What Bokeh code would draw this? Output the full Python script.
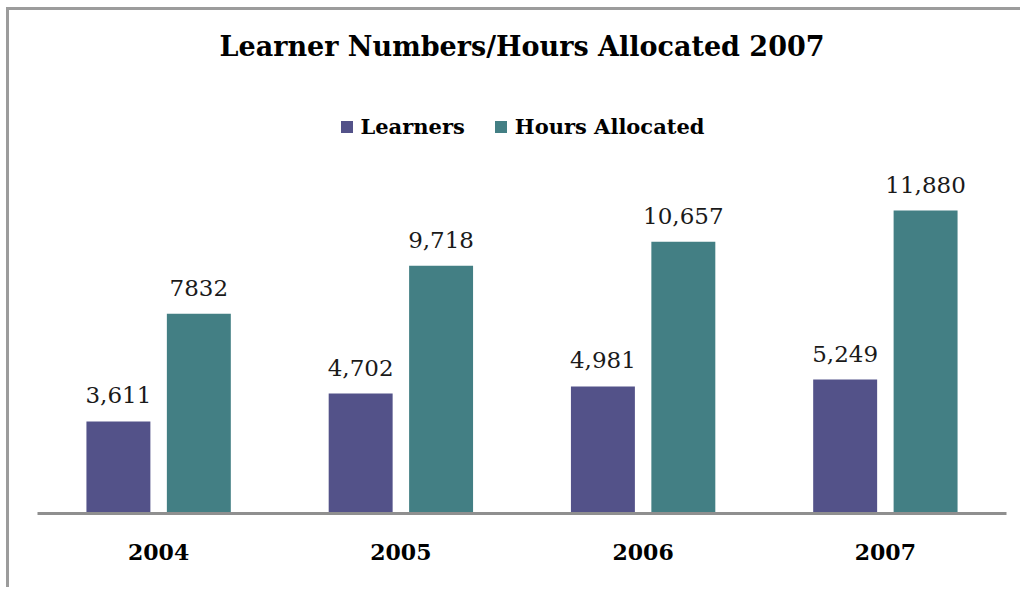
from bokeh.plotting import figure
from bokeh.models import ColumnDataSource, FactorRange, Range1d, LabelSet, Label, Legend, LegendItem
from bokeh.core.properties import value
from bokeh.transform import dodge
from bokeh.embed import file_html
from bokeh.resources import INLINE

years = ["2004", "2005", "2006", "2007"]
learners = [3611, 4702, 4981, 5249]
hours = [7832, 9718, 10657, 11880]
learner_labels = ["3,611", "4,702", "4,981", "5,249"]
hour_labels = ["7832", "9,718", "10,657", "11,880"]

TITLE = "Learner Numbers/Hours Allocated 2007"
C_LEARN = "#535289"
C_HOURS = "#437F84"
SERIF = "DejaVu Serif"

# canvas origin (page coords) after the CSS frame border
OX, OY = 9, 10
W, H = 1014, 580
FRAME_H = 513 - OY
Y_END = FRAME_H * 11880 / 303.0

def yv(page_y):
    return (513 - page_y) * Y_END / FRAME_H

src = ColumnDataSource(dict(years=years, learners=learners, hours=hours,
                            ll=learner_labels, hl=hour_labels))

p = figure(x_range=FactorRange(*years, range_padding=0), y_range=Range1d(0, Y_END),
           width=W, height=H, output_backend="svg", toolbar_location=None,
           min_border_left=37 - OX, min_border_right=W - (1006 - OX), min_border_top=0,
           min_border_bottom=H - FRAME_H)
p.styles = {"border-left": "3px solid #9c9c9c", "border-top": "3px solid #9c9c9c",
            "margin-left": "6px", "margin-top": "7px"}

off = 0.166
bw = 0.264
r1 = p.vbar(x=dodge("years", -off, range=p.x_range), top="learners", width=bw, source=src,
            fill_color=C_LEARN, line_color=None)
r2 = p.vbar(x=dodge("years", off, range=p.x_range), top="hours", width=bw, source=src,
            fill_color=C_HOURS, line_color=None)

for ycol, tcol, d in [("learners", "ll", -off), ("hours", "hl", off)]:
    p.add_layout(LabelSet(x=dodge("years", d, range=p.x_range), y=ycol, text=tcol, source=src,
                          text_align="center", text_baseline="alphabetic", y_offset=18,
                          text_font=value(SERIF), text_font_size=value("23px"),
                          text_color=value("#1a1a1a")))

p.add_layout(Label(x=2.0, y=yv(46), text=TITLE, text_align="center", text_baseline="middle",
                   text_font=SERIF, text_font_style="bold", text_font_size="27px",
                   text_color="#000000"))

legend = Legend(items=[LegendItem(label="Learners", renderers=[r1]),
                       LegendItem(label="Hours Allocated", renderers=[r2])],
                orientation="horizontal", location="top_center", margin=115 - OY - 1, padding=0,
                spacing=28, label_standoff=7, glyph_width=15, glyph_height=15,
                label_text_font=SERIF, label_text_font_style="bold", label_text_font_size="21px",
                label_text_color="#000000", border_line_alpha=0, background_fill_alpha=0)
p.add_layout(legend)

p.yaxis.visible = False
p.xgrid.grid_line_color = None
p.ygrid.grid_line_color = None
p.outline_line_color = None
p.xaxis.axis_line_color = "#8f8f8f"
p.xaxis.axis_line_width = 3
p.xaxis.major_tick_line_color = None
p.xaxis.minor_tick_line_color = None
p.xaxis.major_label_standoff = 24
p.xaxis.major_label_text_font = SERIF
p.xaxis.major_label_text_font_style = "bold"
p.xaxis.major_label_text_font_size = "22px"
p.xaxis.major_label_text_color = "#000000"

open("out.html", "w").write(file_html(p, INLINE))
